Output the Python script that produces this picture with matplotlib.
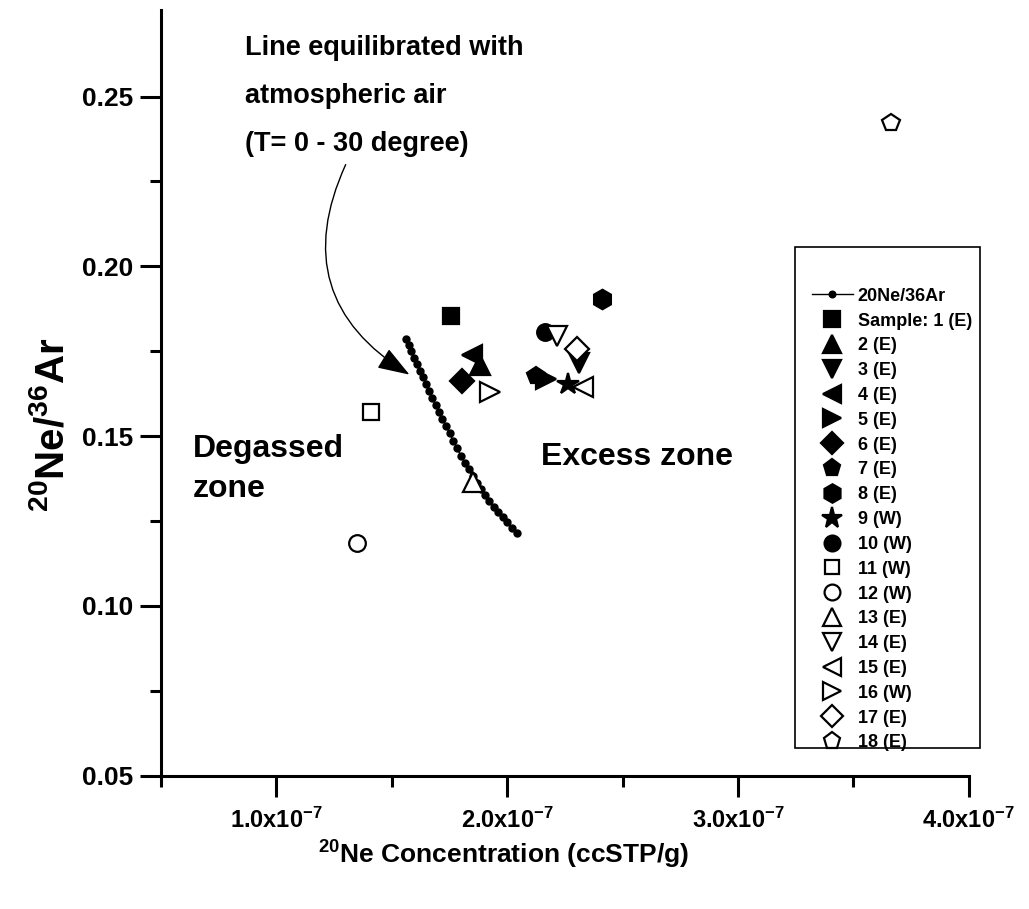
import matplotlib.pyplot as plt
from matplotlib.patches import Rectangle
from matplotlib.ticker import FixedLocator, FuncFormatter

plt.rcParams['font.family'] = 'Liberation Sans'
plt.rcParams['font.weight'] = 'bold'
plt.rcParams['axes.labelweight'] = 'bold'
plt.rcParams['mathtext.fontset'] = 'custom'
plt.rcParams['mathtext.rm'] = 'Liberation Sans:bold'
plt.rcParams['mathtext.bf'] = 'Liberation Sans:bold'
plt.rcParams['mathtext.default'] = 'bf'

# equilibrium line (20Ne concentration in 1e-7 ccSTP/g, 20Ne/36Ar)
line_x = [1.561, 1.5725, 1.5843, 1.5964, 1.6088, 1.6215, 1.6346, 1.6480, 1.6617, 1.6757,
          1.6900, 1.7046, 1.7195, 1.7347, 1.7502, 1.7660, 1.7822, 1.7987, 1.8155, 1.8326,
          1.8500, 1.8677, 1.8857, 1.9040, 1.9226, 1.9415, 1.9608, 1.9804, 2.0003, 2.0205, 2.0410]
line_y = [0.1785, 0.1768, 0.1750, 0.1731, 0.1713, 0.1693, 0.1673, 0.1653, 0.1632, 0.1611,
          0.1591, 0.1571, 0.1551, 0.1530, 0.1509, 0.1487, 0.1465, 0.1443, 0.1422, 0.1402,
          0.1382, 0.1363, 0.1344, 0.1326, 0.1308, 0.1292, 0.1277, 0.1261, 0.1246, 0.1230, 0.1214]

# samples
labels = ['Sample: 1 (E)', '2 (E)', '3 (E)', '4 (E)', '5 (E)', '6 (E)', '7 (E)', '8 (E)', '9 (W)',
          '10 (W)', '11 (W)', '12 (W)', '13 (E)', '14 (E)', '15 (E)', '16 (W)', '17 (E)', '18 (E)']
ne_conc = [1.755, 1.882, 2.310, 1.849, 2.170, 1.802, 2.126, 2.412, 2.263,
           2.162, 1.409, 1.350, 1.852, 2.216, 2.328, 1.927, 2.302, 3.663]
ne_ar = [0.1854, 0.1709, 0.1716, 0.1739, 0.1667, 0.1662, 0.1677, 0.1903, 0.1653,
         0.1806, 0.1572, 0.1184, 0.1366, 0.1796, 0.1644, 0.1629, 0.1757, 0.2421]
markers = ['s', '^', 'v', '<', '>', 'D', 'p', 'h', '*', 'o', 's', 'o', '^', 'v', '<', '>', 'D', 'p']
filled = [True] * 10 + [False] * 8
sizes = [12, 14, 14, 14, 14, 12, 13, 14, 16, 12, 11, 12, 14, 14, 14, 14, 12, 13]

fig = plt.figure(figsize=(10.29, 9.09), dpi=100)
ax = fig.add_axes([0.1565, 0.1466, 0.785, 0.8424])

ax.plot([v * 1e-7 for v in line_x], line_y, color='black', lw=1, marker='o', ms=5,
        label='20Ne/36Ar')
for i in range(len(labels)):
    fc = 'black' if filled[i] else 'white'
    ax.plot(ne_conc[i] * 1e-7, ne_ar[i], linestyle='none', marker=markers[i], ms=sizes[i],
            mfc=fc, mec='black', mew=1.6, label=labels[i])

ax.set_xlim(0.5e-7, 4.0e-7)
ax.set_ylim(0.05, 0.2755)
ax.spines['top'].set_visible(False)
ax.spines['right'].set_visible(False)
ax.spines['left'].set_linewidth(2.2)
ax.spines['bottom'].set_linewidth(2.2)

ax.xaxis.set_major_locator(FixedLocator([1e-7, 2e-7, 3e-7, 4e-7]))
ax.xaxis.set_minor_locator(FixedLocator([0.5e-7, 1.5e-7, 2.5e-7, 3.5e-7]))
ax.yaxis.set_major_locator(FixedLocator([0.05, 0.10, 0.15, 0.20, 0.25]))
ax.yaxis.set_minor_locator(FixedLocator([0.075, 0.125, 0.175, 0.225]))
ax.xaxis.set_major_formatter(FuncFormatter(lambda v, p: '%.1fx10$^{-7}$' % (v * 1e7)))
ax.yaxis.set_major_formatter(FuncFormatter(lambda v, p: '%.2f' % v))
ax.tick_params(which='major', direction='out', length=15, width=2.2, labelsize=17, pad=8)
ax.tick_params(which='minor', direction='out', length=8, width=2.2)
ax.tick_params(axis='y', which='major', labelsize=19, pad=5)

ax.set_xlabel('$^{20}$Ne Concentration (ccSTP/g)', fontsize=19)
ax.xaxis.set_label_coords(0.4245, -0.082)
ax.set_ylabel('$^{20}$Ne/$^{36}$Ar', fontsize=29)
ax.yaxis.set_label_coords(-0.111, 0.458)

ax.text(0.864e-7, 0.2681, 'Line equilibrated with\natmospheric air\n(T= 0 - 30 degree)',
        fontsize=19.5, va='top', ha='left', linespacing=2.1)
ax.text(0.6385e-7, 0.1403, 'Degassed\nzone', fontsize=23, va='center', ha='left', linespacing=1.45)
ax.text(2.145e-7, 0.1438, 'Excess zone', fontsize=23, va='center', ha='left')

ax.annotate('', xy=(1.5866e-7, 0.1677), xytext=(1.305e-7, 0.2307),
            arrowprops=dict(arrowstyle='-|>,head_length=1.0,head_width=0.35',
                            connectionstyle='arc3,rad=0.45', color='black', lw=1,
                            mutation_scale=20))

fig.patches.append(Rectangle((0.7726, 0.1771), 0.1798, 0.5512, transform=fig.transFigure,
                             fill=False, edgecolor='black', lw=1.2))
ax.legend(loc='upper left', bbox_to_anchor=(0.789, 0.6835), bbox_transform=fig.transFigure,
          frameon=False, fontsize=13, borderpad=0, borderaxespad=0, handlelength=2.25,
          handletextpad=0.28, labelspacing=0.433, numpoints=1, markerscale=0.95)

fig.savefig('out.png', dpi=100)
